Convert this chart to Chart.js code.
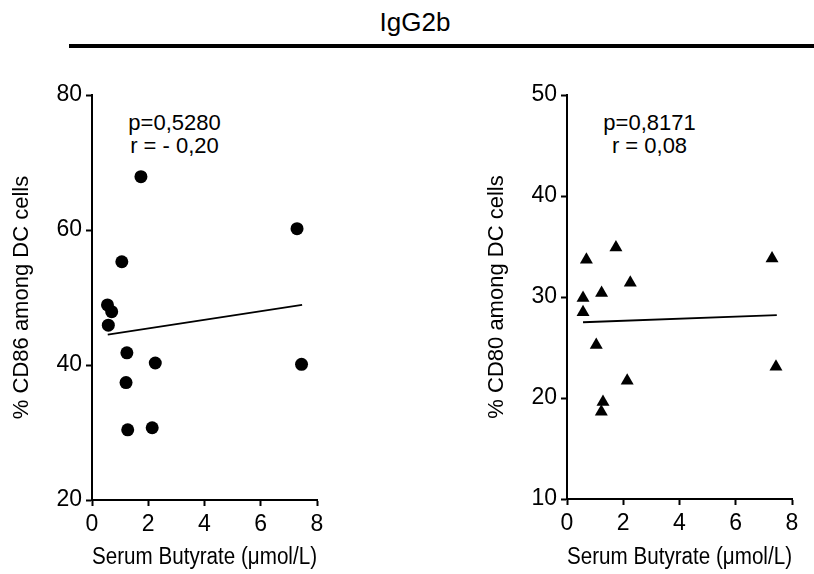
<!DOCTYPE html>
<html>
<head>
<meta charset="utf-8">
<script src="https://cdn.jsdelivr.net/npm/chart.js@4/dist/chart.umd.min.js"></script>
<style>
  html, body { margin:0; padding:0; background:#fff; }
  body { width:814px; height:574px; position:relative; overflow:hidden; font-family:"Liberation Sans", Arial, sans-serif; color:#000; }
  canvas { position:absolute; top:0; }
  #c1 { left:0; }
  #c2 { left:407px; }
  .title { position:absolute; left:315px; width:200px; top:6px; text-align:center; font-size:26px; line-height:32px; }
  .rule { position:absolute; left:69px; width:745px; top:44px; height:4px; background:#000; }
  .note { position:absolute; width:160px; text-align:center; font-size:22px; line-height:23px; }
</style>
</head>
<body>
<div class="title">IgG2b</div>
<div class="rule"></div>
<div class="note" id="n1" style="left:94.5px; top:111px;"></div>
<div class="note" id="n2" style="left:569.5px; top:111px;"></div>
<canvas id="c1" width="407" height="574"></canvas>
<canvas id="c2" width="407" height="574"></canvas>
<script>
// ---- data ----
const xTickValues = [0, 2, 4, 6, 8];
const yTickValuesCD86 = [20, 40, 60, 80];
const yTickValuesCD80 = [10, 20, 30, 40, 50];

const butyrateCD86 = [1.74, 7.29, 1.06, 0.55, 0.70, 0.58, 1.24, 2.25, 7.45, 1.21, 1.27, 2.14];
const cd86 = [67.9, 60.2, 55.3, 48.9, 47.9, 45.9, 41.8, 40.3, 40.1, 37.4, 30.4, 30.7];
const fitXCD86 = [0.56, 7.47];
const fitYCD86 = [44.5, 48.9];

const butyrateCD80 = [0.69, 1.74, 7.29, 0.57, 1.23, 2.25, 0.57, 1.04, 7.43, 2.14, 1.28, 1.22];
const cd80 = [33.7, 34.9, 33.8, 29.9, 30.4, 31.4, 28.5, 25.25, 23.1, 21.7, 19.6, 18.65];
const fitXCD80 = [0.57, 7.46];
const fitYCD80 = [27.5, 28.2];

const statsCD86 = ["p=0,5280", "r = - 0,20"];
const statsCD80 = ["p=0,8171", "r = 0,08"];
const xTitle = "Serum Butyrate (\u03bcmol/L)";
const yTitleCD86 = "% CD86 among DC cells";
const yTitleCD80 = "% CD80 among DC cells";

document.getElementById('n1').innerHTML = statsCD86.join('<br>');
document.getElementById('n2').innerHTML = statsCD80.join('<br>');

const FONT = '"Liberation Sans", Arial, sans-serif';

function pts(xs, ys) { return xs.map((x, i) => ({ x: x, y: ys[i] })); }

function axisCommon() {
  return {
    grid: { display: true, drawOnChartArea: false, drawTicks: true, tickLength: 6, tickWidth: 2, tickColor: '#000' },
    border: { display: true, color: '#000', width: 2 },
  };
}

function makeChart(id, xs, ys, fx, fy, yTicks, yTitle, pointStyle, radius, pad, yWidth, xHeight) {
  const yMin = yTicks[0], yMax = yTicks[yTicks.length - 1];
  const xMin = xTickValues[0], xMax = xTickValues[xTickValues.length - 1];
  return new Chart(document.getElementById(id), {
    type: 'scatter',
    data: {
      datasets: [
        {
          data: pts(xs, ys),
          pointStyle: pointStyle,
          pointRadius: radius,
          pointBackgroundColor: '#000',
          pointBorderColor: '#000',
          pointBorderWidth: 0,
          showLine: false,
        },
        {
          data: pts(fx, fy),
          showLine: true,
          borderColor: '#000',
          borderWidth: 1.8,
          pointRadius: 0,
          fill: false,
        }
      ]
    },
    options: {
      responsive: false,
      animation: false,
      devicePixelRatio: 1,
      layout: { padding: pad },
      plugins: { legend: { display: false }, tooltip: { enabled: false } },
      scales: {
        x: Object.assign(axisCommon(), {
          type: 'linear', min: xMin, max: xMax,
          afterBuildTicks: s => { s.ticks = xTickValues.map(v => ({ value: v })); },
          afterFit: s => { s.height = xHeight; },
          ticks: { color: '#000', font: { family: FONT, size: 23 }, padding: 5, maxRotation: 0 },
          title: { display: true, text: xTitle, color: '#000', font: { family: FONT, size: 23 }, padding: { top: 0, bottom: 3 } },
        }),
        y: Object.assign(axisCommon(), {
          type: 'linear', min: yMin, max: yMax,
          afterBuildTicks: s => { s.ticks = yTicks.map(v => ({ value: v })); },
          afterFit: s => { s.width = yWidth; },
          ticks: { color: '#000', font: { family: FONT, size: 23 }, padding: 4 },
          title: { display: true, text: yTitle, color: '#000', font: { family: FONT, size: 22 }, padding: { top: 9, bottom: 0 } },
        }),
      }
    }
  });
}

makeChart('c1', butyrateCD86, cd86, fitXCD86, fitYCD86, yTickValuesCD86, yTitleCD86, 'circle', 6.5,
  { left: 0, top: 95, right: 90, bottom: 0 }, 92, 74);
makeChart('c2', butyrateCD80, cd80, fitXCD80, fitYCD80, yTickValuesCD80, yTitleCD80, 'triangle', 7.5,
  { left: 68, top: 95, right: 22, bottom: 0 }, 92, 75);
</script>
</body>
</html>
